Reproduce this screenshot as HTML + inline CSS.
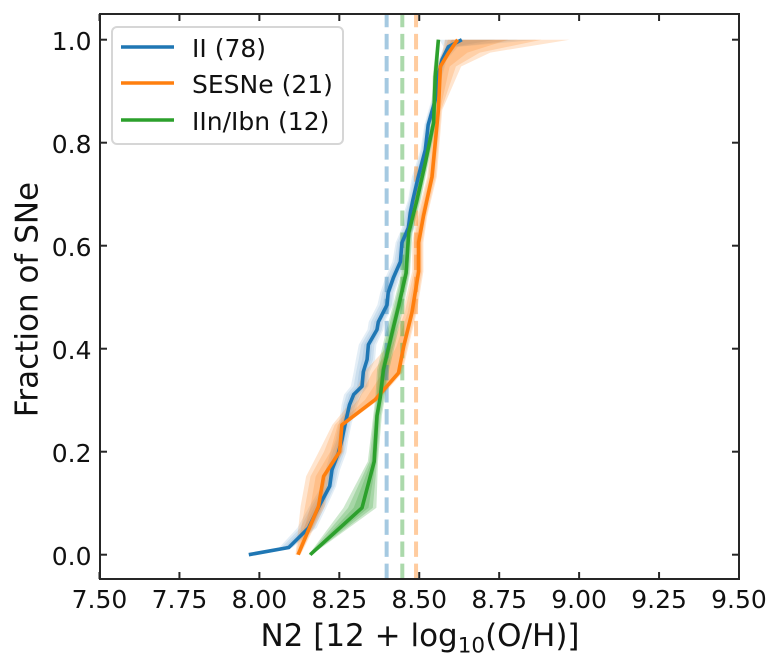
<!DOCTYPE html>
<html>
<head>
<meta charset="utf-8">
<title>Fraction of SNe vs N2</title>
<style>
html,body{margin:0;padding:0;background:#fff;}
svg{display:block;}
text{font-family:"DejaVu Sans","Liberation Sans",sans-serif;fill:#111;}
</style>
</head>
<body>
<svg id="chart" xmlns="http://www.w3.org/2000/svg" width="781" height="668" viewBox="0 0 781 668">
  <rect x="0" y="0" width="781" height="668" fill="#fff"/>
  <g id="bands"></g>
  <g id="medians"></g>
  <g id="lines"></g>
  <g id="ticks"></g>
  <rect x="100" y="14" width="639" height="565" fill="none" stroke="#262626" stroke-width="2"/>
  <text x="420" y="646" font-size="31" text-anchor="middle">N2 [12 + log<tspan font-size="21.5" dy="6.5">10</tspan><tspan dy="-6.5">(O/H)]</tspan></text>
  <text transform="translate(37.5,299.5) rotate(-90)" font-size="31" text-anchor="middle">Fraction of SNe</text>
  <g>
    <rect x="112" y="27" width="231" height="117" rx="5" ry="5" fill="#fff" fill-opacity="0.8" stroke="#d6d6d6" stroke-width="2"/>
    <line x1="121" x2="174" y1="47" y2="47" stroke="#1f77b4" stroke-width="3.6"/>
    <text x="192" y="57" font-size="25">II (78)</text>
    <line x1="121" x2="174" y1="83" y2="83" stroke="#ff7f0e" stroke-width="3.6"/>
    <text x="192" y="93" font-size="25">SESNe (21)</text>
    <line x1="121" x2="174" y1="120" y2="120" stroke="#2ca02c" stroke-width="3.6"/>
    <text x="192" y="130" font-size="25">IIn/Ibn (12)</text>
  </g>
</svg>
<script>
var xTickLabels = ["7.50","7.75","8.00","8.25","8.50","8.75","9.00","9.25","9.50"];
var yTickLabels = ["0.0","0.2","0.4","0.6","0.8","1.0"];

var iiMetal = [7.967,8.092,8.154,8.184,8.22,8.227,8.247,8.258,8.269,8.282,8.295,8.321,8.325,8.337,8.341,8.368,8.372,8.399,8.403,8.419,8.441,8.446,8.466,8.472,8.48,8.497,8.519,8.528,8.55,8.559,8.571,8.591,8.633];
var iiFrac = [0,0.014,0.052,0.091,0.133,0.165,0.198,0.223,0.256,0.291,0.311,0.327,0.355,0.379,0.408,0.437,0.452,0.485,0.509,0.538,0.569,0.606,0.635,0.664,0.689,0.734,0.786,0.835,0.883,0.928,0.961,0.986,1];
var iiLow = [0.002,0.03,0.035,0.03,0.025,0.02,0.025,0.02,0.02,0.025,0.03,0.035,0.03,0.035,0.03,0.03,0.03,0.03,0.025,0.025,0.025,0.02,0.02,0.02,0.015,0.02,0.015,0.012,0.012,0.01,0.01,0.015,0.07];
var iiHigh = [0.002,0.012,0.025,0.025,0.02,0.025,0.025,0.02,0.02,0.025,0.025,0.02,0.02,0.025,0.025,0.02,0.02,0.02,0.02,0.02,0.02,0.02,0.02,0.015,0.015,0.012,0.01,0.01,0.01,0.012,0.015,0.03,0.235];

var seMetal = [8.121,8.185,8.201,8.251,8.258,8.362,8.435,8.451,8.477,8.498,8.498,8.513,8.54,8.56,8.566,8.592,8.62];
var seFrac = [0,0.094,0.152,0.2,0.252,0.301,0.353,0.404,0.47,0.55,0.606,0.657,0.734,0.864,0.948,0.975,1];
var seLow = [0.008,0.056,0.055,0.065,0.03,0.07,0.11,0.05,0.03,0.02,0.02,0.02,0.015,0.015,0.012,0.02,0.04];
var seHigh = [0.008,0.02,0.02,0.012,0.01,0.012,0.012,0.015,0.015,0.015,0.015,0.012,0.015,0.012,0.065,0.13,0.35];

var inMetal = [8.159,8.321,8.359,8.368,8.378,8.388,8.415,8.435,8.459,8.467,8.493,8.519,8.545,8.55,8.56];
var inFrac = [0,0.091,0.181,0.27,0.305,0.359,0.431,0.482,0.547,0.625,0.689,0.761,0.839,0.928,1];
var inLow = [0.005,0.058,0.02,0.012,0.015,0.02,0.02,0.018,0.015,0.012,0.012,0.01,0.008,0.008,0.006];
var inHigh = [0.005,0.045,0.012,0.015,0.015,0.018,0.018,0.016,0.012,0.012,0.012,0.01,0.008,0.008,0.004];

var medianValues = [8.398,8.49,8.447];

function xPos(v){ return 99.5 + (v - 7.5) * 319.75; }
function yPos(v){ return 554.7 - v * 515; }

var NS = "http://www.w3.org/2000/svg";
var seriesColors = ["#1f77b4","#ff7f0e","#2ca02c"];
var bandOpacity = ["0.12","0.2","0.24"];
var allMetal = [iiMetal,seMetal,inMetal];
var allFrac = [iiFrac,seFrac,inFrac];
var allLow = [iiLow,seLow,inLow];
var allHigh = [iiHigh,seHigh,inHigh];
var bandLevels = [1,0.75,0.45];

var bandsG = document.getElementById("bands");
var linesG = document.getElementById("lines");
var mediansG = document.getElementById("medians");
var ticksG = document.getElementById("ticks");

allMetal.forEach(function(metal, s){
  bandLevels.forEach(function(level){
    var pts = [];
    var i;
    for(i = 0; i < metal.length; i++){
      pts.push(xPos(metal[i] - allLow[s][i] * level).toFixed(1) + "," + yPos(allFrac[s][i]).toFixed(1));
    }
    for(i = metal.length - 1; i >= 0; i--){
      pts.push(xPos(metal[i] + allHigh[s][i] * level).toFixed(1) + "," + yPos(allFrac[s][i]).toFixed(1));
    }
    var band = document.createElementNS(NS, "polygon");
    band.setAttribute("points", pts.join(" "));
    band.setAttribute("fill", seriesColors[s]);
    band.setAttribute("fill-opacity", bandOpacity[s]);
    
    
    bandsG.appendChild(band);
  });
});

medianValues.forEach(function(m, s){
  var med = document.createElementNS(NS, "line");
  med.setAttribute("x1", xPos(m));
  med.setAttribute("x2", xPos(m));
  med.setAttribute("y1", 579);
  med.setAttribute("y2", 14);
  med.setAttribute("stroke", seriesColors[s]);
  med.setAttribute("stroke-opacity", "0.4");
  med.setAttribute("stroke-width", "4");
  med.setAttribute("stroke-dasharray", "15.4 6.67");
  
  
  mediansG.appendChild(med);
});

allMetal.forEach(function(metal, s){
  var pts = metal.map(function(v, i){
    return xPos(v).toFixed(1) + "," + yPos(allFrac[s][i]).toFixed(1);
  });
  var line = document.createElementNS(NS, "polyline");
  line.setAttribute("points", pts.join(" "));
  line.setAttribute("fill", "none");
  line.setAttribute("stroke", seriesColors[s]);
  line.setAttribute("stroke-width", "3.6");
  line.setAttribute("stroke-linejoin", "round");
  
  
  linesG.appendChild(line);
});

xTickLabels.forEach(function(lab){
  var px = xPos(parseFloat(lab));
  [[579,572],[14,21]].forEach(function(seg){
    var t = document.createElementNS(NS, "line");
    t.setAttribute("x1", px);
    t.setAttribute("x2", px);
    t.setAttribute("y1", seg[0]);
    t.setAttribute("y2", seg[1]);
    t.setAttribute("stroke", "#262626");
    t.setAttribute("stroke-width", "2");
    
    
    ticksG.appendChild(t);
  });
  var txt = document.createElementNS(NS, "text");
  txt.setAttribute("x", px);
  txt.setAttribute("y", 608);
  txt.setAttribute("font-size", "25");
  txt.setAttribute("text-anchor", "middle");
  txt.textContent = lab;
  
  
  ticksG.appendChild(txt);
});

yTickLabels.forEach(function(lab){
  var py = yPos(parseFloat(lab));
  [[100,107],[739,732]].forEach(function(seg){
    var t = document.createElementNS(NS, "line");
    t.setAttribute("x1", seg[0]);
    t.setAttribute("x2", seg[1]);
    t.setAttribute("y1", py);
    t.setAttribute("y2", py);
    t.setAttribute("stroke", "#262626");
    t.setAttribute("stroke-width", "2");
    
    
    ticksG.appendChild(t);
  });
  var txt = document.createElementNS(NS, "text");
  txt.setAttribute("x", 91.5);
  txt.setAttribute("y", py + 10.5);
  txt.setAttribute("font-size", "25");
  txt.setAttribute("text-anchor", "end");
  txt.textContent = lab;
  
  
  ticksG.appendChild(txt);
});
</script>
</body>
</html>
